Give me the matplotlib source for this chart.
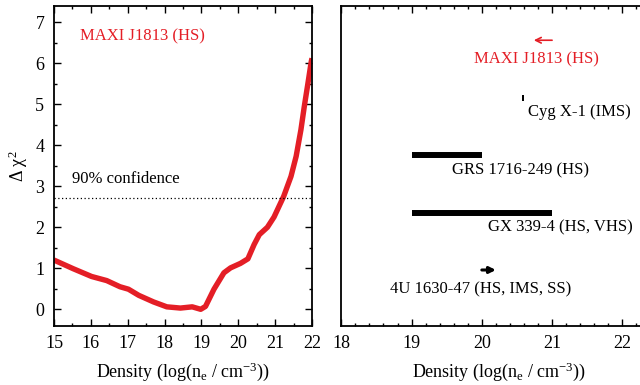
import matplotlib
matplotlib.use('Agg')
import matplotlib.pyplot as plt
from matplotlib.ticker import MultipleLocator

plt.rcParams['font.family'] = ['Liberation Serif', 'DejaVu Serif']
plt.rcParams['mathtext.fontset'] = 'custom'
plt.rcParams['mathtext.rm'] = 'Liberation Serif'
plt.rcParams['mathtext.it'] = 'Liberation Serif:italic'
plt.rcParams['mathtext.default'] = 'rm'

RED = '#e41e26'

# delta chi^2 scan over density for MAXI J1813
dens = [15.0, 15.52, 16.02, 16.43, 16.79, 17.02, 17.3, 17.7, 18.06, 18.43,
        18.75, 18.98, 19.11, 19.34, 19.61, 19.79, 20.06, 20.26, 20.43, 20.57,
        20.79, 20.97, 21.23, 21.43, 21.57, 21.70, 21.79, 21.89, 21.98, 22.0]
dchi2 = [1.2, 0.99, 0.80, 0.70, 0.55, 0.49, 0.34, 0.18, 0.06, 0.03,
         0.06, 0.0, 0.07, 0.49, 0.89, 1.01, 1.12, 1.23, 1.58, 1.82,
         2.0, 2.25, 2.75, 3.24, 3.73, 4.38, 4.94, 5.51, 6.04, 6.12]
conf90 = 2.71

# density constraints from other sources
sources = ['MAXI J1813 (HS)', 'Cyg X-1 (IMS)', 'GRS 1716-249 (HS)',
           'GX 339-4 (HS, VHS)', '4U 1630-47 (HS, IMS, SS)']
lo = [None, 20.57, 19.0, 19.0, 20.0]
hi = [21.0, 20.60, 20.0, 21.0, None]
rows = [4, 3, 2, 1, 0]

fig = plt.figure(figsize=(6.4, 3.85), dpi=100)
ax1 = fig.add_axes([0.0844, 0.154, 0.4031, 0.831])
ax2 = fig.add_axes([0.5333, 0.154, 0.494, 0.831])

ax1.plot(dens, dchi2, color=RED, lw=3.9, solid_joinstyle='round',
         solid_capstyle='butt')
ax1.axhline(conf90, color='black', ls=(0, (1, 2)), lw=0.9)
ax1.text(15.5, 3.08, '90% confidence', fontsize=12, va='baseline')
ax1.text(15.7, 6.65, 'MAXI J1813 (HS)', fontsize=12, color=RED, va='center')
ax1.set_xlim(15, 22)
ax1.set_ylim(-0.4, 7.4)
ax1.xaxis.set_major_locator(MultipleLocator(1))
ax1.xaxis.set_minor_locator(MultipleLocator(0.5))
ax1.yaxis.set_major_locator(MultipleLocator(1))
ax1.yaxis.set_minor_locator(MultipleLocator(0.5))
ax1.set_ylabel(r'$\Delta\ \chi^2$', fontsize=13, labelpad=4)

# bars for ranges, arrows for limits
for name, a, b, r in zip(sources, lo, hi, rows):
    if a is not None and b is not None:
        ax2.hlines(r, a, b, color='black', lw=4.3, capstyle='butt')
    elif a is None:
        ax2.annotate('', xy=(b - 0.26, r), xytext=(b, r),
                     arrowprops=dict(arrowstyle='->', color=RED, lw=1.2,
                                     shrinkA=0, shrinkB=0))
    else:
        ax2.annotate('', xy=(a + 0.2, r), xytext=(a, r),
                     arrowprops=dict(arrowstyle='-|>', color='black', lw=2.2,
                                     mutation_scale=9, shrinkA=0, shrinkB=0))

ax2.text(20.78, 4 - 0.33, sources[0], color=RED, fontsize=12, ha='center', va='center')
ax2.text(20.66, 3 - 0.25, sources[1], fontsize=12, ha='left', va='center')
ax2.text(20.55, 2 - 0.26, sources[2], fontsize=12, ha='center', va='center')
ax2.text(21.12, 1 - 0.25, sources[3], fontsize=12, ha='center', va='center')
ax2.text(19.99, 0 - 0.34, sources[4], fontsize=12, ha='center', va='center')

ax2.set_xlim(18, 22.5)
ax2.set_ylim(-0.97, 4.6)
ax2.xaxis.set_major_locator(MultipleLocator(1))
ax2.xaxis.set_minor_locator(MultipleLocator(0.2))
ax2.set_yticks([])

for ax in (ax1, ax2):
    ax.set_xlabel(r'Density (log(n$_{\rm e}$ / cm$^{-3}$))', fontsize=13, labelpad=6)
    ax.tick_params(which='both', direction='in', top=True, right=True,
                   labelsize=13, width=1.0)
    ax.tick_params(which='major', length=5, pad=7)
    ax.tick_params(which='minor', length=2.5)
    for s in ax.spines.values():
        s.set_linewidth(1.3)
ax2.tick_params(axis='y', which='both', left=False, right=False)

fig.savefig('out.png', dpi=100)
